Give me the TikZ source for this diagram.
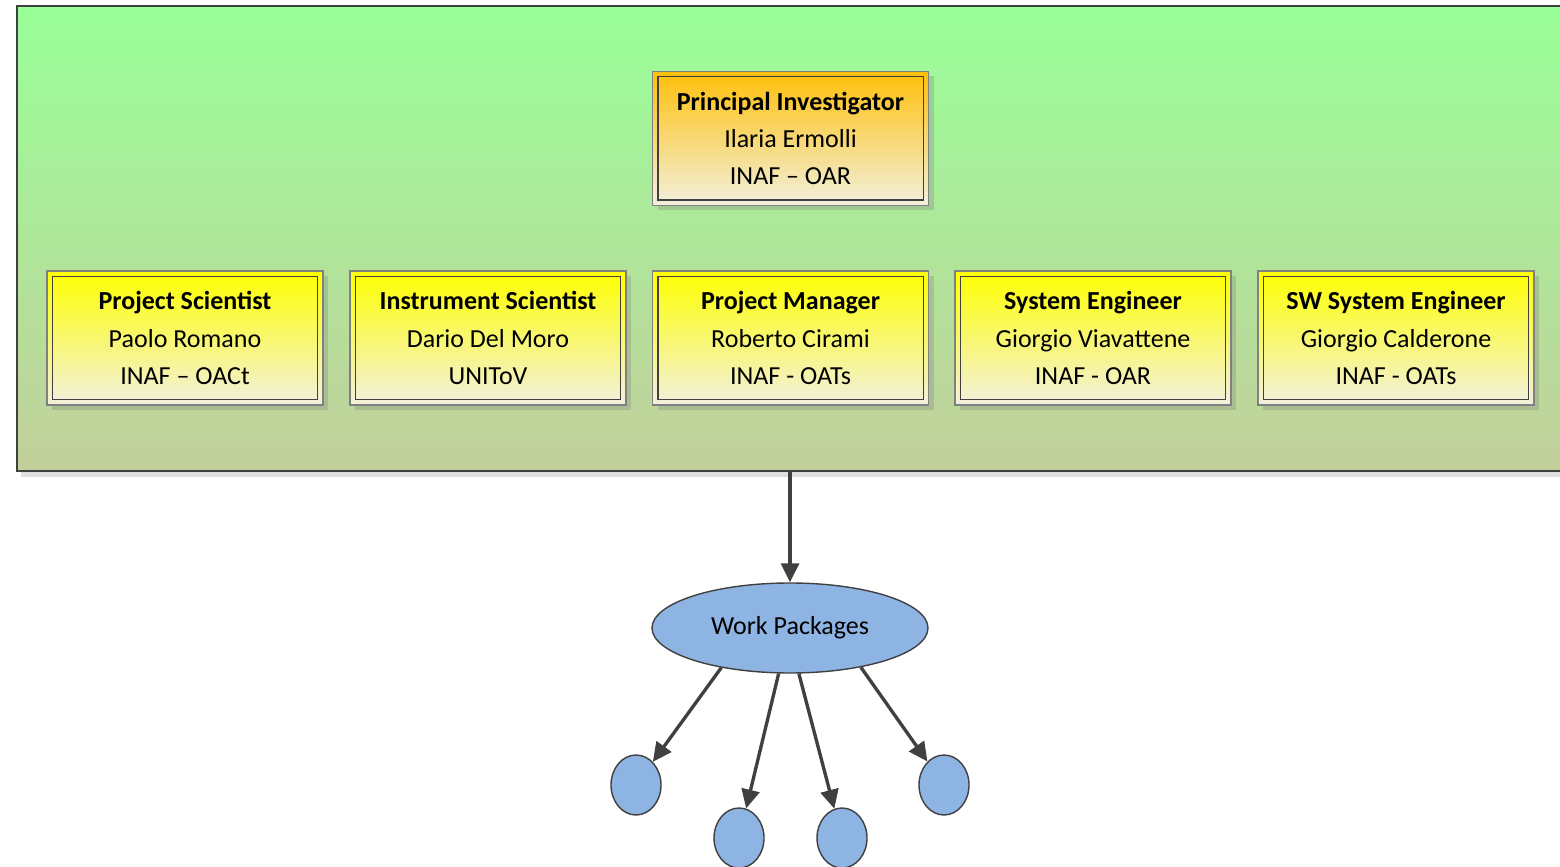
\documentclass[tikz,border=0pt]{standalone}
\usepackage{fontspec}
\setmainfont{Carlito}
\usepackage{tikz}
\usetikzlibrary{arrows.meta, positioning, shapes.geometric, shadows}
\definecolor{panelTop}{RGB}{153,255,153}
\definecolor{panelBot}{RGB}{195,207,155}
\definecolor{piTop}{RGB}{255,192,10}
\definecolor{roleTop}{RGB}{255,255,0}
\definecolor{roleBot}{RGB}{242,240,222}
\definecolor{wpBlue}{RGB}{141,180,226}
\definecolor{lineGray}{RGB}{64,64,64}
\tikzset{
	rolebox/.style={rectangle, minimum width=2.76cm, minimum height=1.34cm, draw=gray, line width=0.4pt,
		bottom color=roleBot, align=center, inner sep=0pt,
		font=\fontsize{7.4}{10.6}\selectfont,
		drop shadow={shadow xshift=0.05cm, shadow yshift=-0.05cm, fill=gray, opacity=0.3}},
	boxline/.style={draw=lineGray, line width=0.4pt},
	wpnode/.style={ellipse, draw=lineGray, fill=wpBlue, line width=0.4pt, inner sep=0pt},
	flow/.style={-{Triangle[length=0.19cm, width=0.18cm]}, draw=lineGray, fill=lineGray, line width=0.95pt}
}
\newcommand{\rolebox}[6]{
	\node[rolebox, top color=#3] (#1) at (#2) {\textbf{#4}\\#5\\#6};
	\draw[boxline] ([shift={(0.06,0.06)}]#1.south west) rectangle ([shift={(-0.06,-0.06)}]#1.north east);
}

\begin{document}
\begin{tikzpicture}
	\useasboundingbox (0,0) rectangle (15.6,8.66);
	\clip (0,0) rectangle (15.6,8.66);
	% Management panel
	\node[rectangle, minimum width=15.7cm, minimum height=4.65cm, anchor=north west, inner sep=0pt,
		top color=panelTop, bottom color=panelBot, draw=lineGray, line width=0.6pt,
		drop shadow={shadow xshift=0.04cm, shadow yshift=-0.06cm, fill=gray!25, opacity=1}] (panel) at (0.16,8.61) {};
	% Roles
	\rolebox{pi}{7.905,7.275}{piTop}{Principal Investigator}{Ilaria Ermolli}{INAF -- OAR}
	\rolebox{ps}{1.85,5.28}{roleTop}{Project Scientist}{Paolo Romano}{INAF -- OACt}
	\rolebox{is}{4.88,5.28}{roleTop}{Instrument Scientist}{Dario Del Moro}{UNIToV}
	\rolebox{pm}{7.905,5.28}{roleTop}{Project Manager}{Roberto Cirami}{INAF - OATs}
	\rolebox{se}{10.93,5.28}{roleTop}{System Engineer}{Giorgio Viavattene}{INAF - OAR}
	\rolebox{sw}{13.96,5.28}{roleTop}{SW System Engineer}{Giorgio Calderone}{INAF - OATs}
	% Work packages
	\node[wpnode, minimum width=2.76cm, minimum height=0.9cm, font=\fontsize{7.4}{10.6}\selectfont] (wp) at (7.9,2.38) {Work Packages};
	\node[wpnode, minimum width=0.5cm, minimum height=0.6cm] (wpa) at (6.36,0.81) {};
	\node[wpnode, minimum width=0.5cm, minimum height=0.6cm] (wpb) at (7.39,0.28) {};
	\node[wpnode, minimum width=0.5cm, minimum height=0.6cm] (wpc) at (8.42,0.28) {};
	\node[wpnode, minimum width=0.5cm, minimum height=0.6cm] (wpd) at (9.44,0.81) {};
	\draw[flow] (panel.south -| wp.north) -- (wp.north);
	\draw[flow] (wp.210) -- (wpa);
	\draw[flow] (wp.256) -- (wpb);
	\draw[flow] (wp.281) -- (wpc);
	\draw[flow] (wp.331) -- (wpd);
\end{tikzpicture}
\end{document}
